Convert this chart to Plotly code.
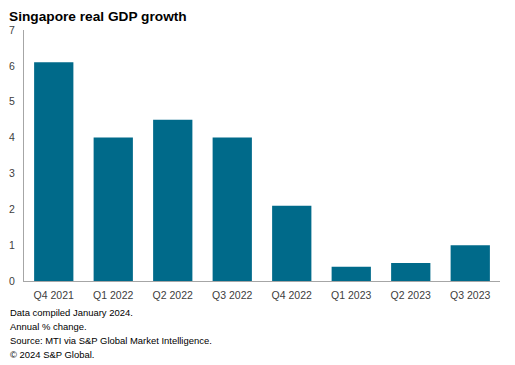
import plotly.graph_objects as go

categories = ["Q4 2021", "Q1 2022", "Q2 2022", "Q3 2022", "Q4 2022", "Q1 2023", "Q2 2023", "Q3 2023"]
gdp_growth = [6.1, 4.0, 4.5, 4.0, 2.1, 0.4, 0.5, 1.0]
y_ticks = [0, 1, 2, 3, 4, 5, 6, 7]
title_text = "Singapore real GDP growth"
footnotes = [
    "Data compiled January 2024.",
    "Annual % change.",
    "Source: MTI via S&P Global Market Intelligence.",
    "\u00a9 2024 S&P Global.",
]

FONT = "Liberation Sans, Arial, sans-serif"

fig = go.Figure(
    go.Bar(x=categories, y=gdp_growth, marker=dict(color="#006a8a", line=dict(width=0)))
)

# page body has an 8px margin, so the figure is sized/offset to compensate
fig.update_layout(
    width=507,
    height=357,
    margin=dict(l=16, r=15, t=22, b=84, autoexpand=False),
    paper_bgcolor="white",
    plot_bgcolor="white",
    bargap=0.34,
    showlegend=False,
    font=dict(family=FONT, size=10.5, color="#404040"),
)

fig.update_xaxes(
    showline=True, linecolor="#a6a6a6", linewidth=1, automargin=False,
    showgrid=False, ticks="", ticklabelstandoff=4,
    tickfont=dict(size=10.5, color="#404040"),
)
fig.update_yaxes(
    range=[0, 7], tickvals=y_ticks, showline=True, linecolor="#a6a6a6", linewidth=1,
    showgrid=False, zeroline=False, ticks="", ticklabelstandoff=6, automargin=False,
    tickfont=dict(size=10.5, color="#404040"),
)

fig.add_annotation(
    text="<b>" + title_text + "</b>", xref="paper", yref="paper",
    x=0, y=1, xshift=-16, yshift=22, xanchor="left", yanchor="top", borderpad=0,
    showarrow=False, font=dict(family=FONT, size=13.7, color="#000000"),
)

for i, line in enumerate(footnotes):
    fig.add_annotation(
        text=line, xref="paper", yref="paper", x=0, y=0,
        xshift=-16, yshift=-24 - 14 * i, xanchor="left", yanchor="top",
        showarrow=False, font=dict(family=FONT, size=9.45, color="#000000"),
    )

fig.write_html("out.html")
